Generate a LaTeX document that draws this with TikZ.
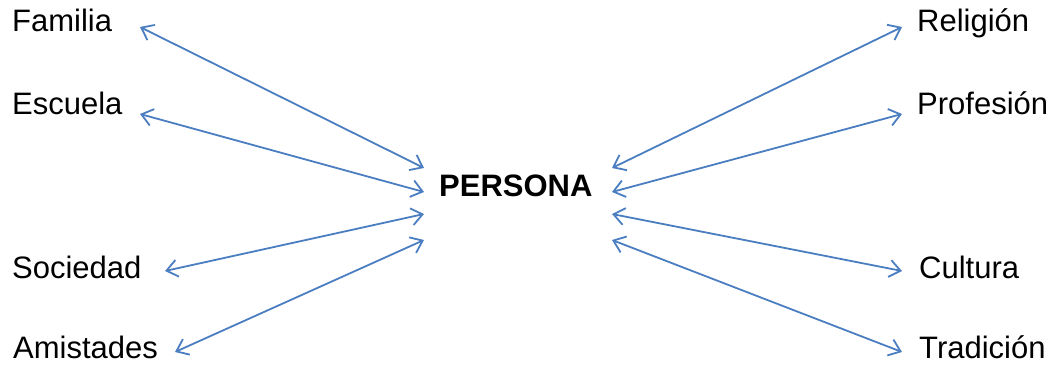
\documentclass[tikz,border=0pt]{standalone}
\usepackage{fontspec}
\setmainfont{Liberation Sans}
\usetikzlibrary{arrows.meta}
\definecolor{arrowblue}{RGB}{74,126,193}
\tikzset{
  lbl/.style={inner sep=0pt, anchor=base west, font=\fontsize{31}{34}\selectfont},
  link/.style={draw=arrowblue, line width=1.8pt, {Straight Barb[length=11pt,width=17pt,line width=1.8pt]}-{Straight Barb[length=11pt,width=17pt,line width=1.8pt]}}
}
\begin{document}
\begin{tikzpicture}[x=1pt,y=-1pt]
\useasboundingbox (0,0) rectangle (1055,366);
\node[lbl] (familia) at (12,32) {Familia};
\node[lbl] (escuela) at (12,115) {Escuela};
\node[lbl] (sociedad) at (12,278) {Sociedad};
\node[lbl] (amistades) at (13,358) {Amistades};
\node[lbl] (religion) at (917,32) {Religión};
\node[lbl] (profesion) at (917,115) {Profesión};
\node[lbl] (cultura) at (919,278) {Cultura};
\node[lbl] (tradicion) at (919,358) {Tradición};
\node[lbl, font=\fontsize{31}{34}\selectfont\bfseries] (persona) at (439,197) {PERSONA};
% arrow ends
\coordinate (fA) at (140,27);  \coordinate (fB) at (424,168);
\coordinate (eA) at (140,114); \coordinate (eB) at (424,192);
\coordinate (sA) at (165,271); \coordinate (sB) at (424,214);
\coordinate (aA) at (175,352); \coordinate (aB) at (424,240);
\coordinate (rA) at (902,27);  \coordinate (rB) at (612,168);
\coordinate (pA) at (902,114); \coordinate (pB) at (612,192);
\coordinate (cA) at (902,271); \coordinate (cB) at (612,214);
\coordinate (tA) at (902,352); \coordinate (tB) at (612,240);
\foreach \k in {f,e,s,a,r,p,c,t}{
  \draw[link] (\k A) -- (\k B);
}
\end{tikzpicture}
\end{document}
